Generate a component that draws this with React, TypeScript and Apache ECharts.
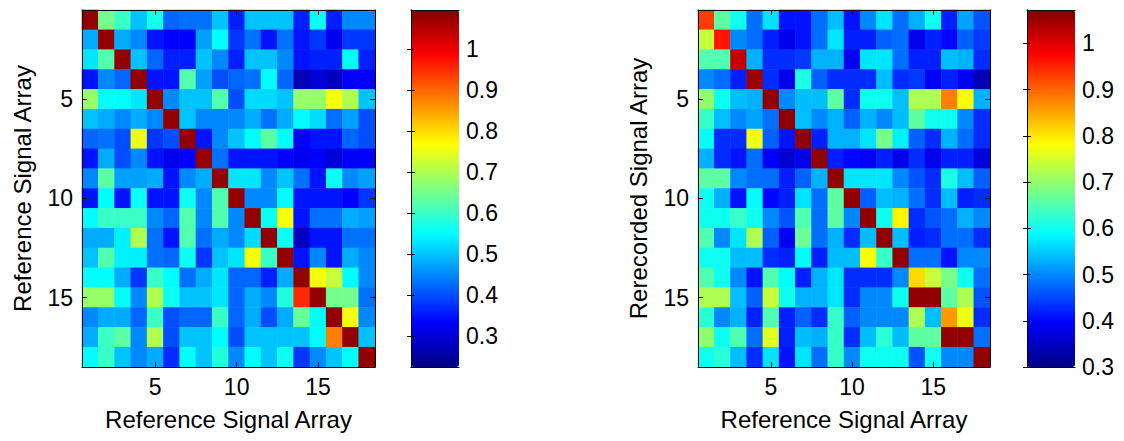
import React, { useEffect, useRef } from "react";
import * as echarts from "echarts";

const CATS = ["1","2","3","4","5","6","7","8","9","10","11","12","13","14","15","16","17","18"];
const TICK_LABELS = ["5", "10", "15"];
const CB_TICKS = [0.3, 0.4, 0.5, 0.6, 0.7, 0.8, 0.9, 1.0];

const LEFT_MIN = 0.225;
const LEFT_MAX = 1.095;
const RIGHT_MIN = 0.3;
const RIGHT_MAX = 1.072;

const LEFT_ROWS: number[][] = [
  [1.08,0.65,0.6,0.5,0.57,0.42,0.43,0.43,0.5,0.36,0.5,0.5,0.5,0.36,0.56,0.36,0.45,0.45],
  [0.48,1.08,0.48,0.45,0.35,0.33,0.33,0.47,0.55,0.38,0.43,0.35,0.43,0.35,0.38,0.32,0.38,0.38],
  [0.53,0.62,1.08,0.5,0.42,0.36,0.36,0.5,0.45,0.36,0.5,0.5,0.45,0.35,0.36,0.36,0.55,0.36],
  [0.35,0.45,0.42,1.08,0.35,0.35,0.62,0.47,0.4,0.42,0.43,0.55,0.42,0.27,0.3,0.28,0.33,0.33],
  [0.68,0.55,0.55,0.53,1.08,0.45,0.5,0.5,0.62,0.4,0.52,0.52,0.5,0.68,0.68,0.76,0.7,0.5],
  [0.5,0.48,0.45,0.48,0.45,1.08,0.5,0.45,0.45,0.45,0.48,0.43,0.48,0.55,0.52,0.43,0.47,0.4],
  [0.42,0.43,0.4,0.75,0.38,0.4,1.08,0.35,0.45,0.5,0.55,0.63,0.55,0.33,0.35,0.35,0.42,0.4],
  [0.35,0.48,0.4,0.45,0.35,0.32,0.33,1.08,0.43,0.35,0.35,0.35,0.33,0.32,0.33,0.3,0.33,0.33],
  [0.45,0.63,0.47,0.47,0.48,0.35,0.45,0.48,1.08,0.53,0.53,0.45,0.5,0.43,0.35,0.56,0.45,0.47],
  [0.35,0.55,0.35,0.56,0.35,0.35,0.56,0.45,0.62,1.08,0.45,0.45,0.55,0.35,0.35,0.35,0.33,0.38],
  [0.55,0.6,0.6,0.6,0.45,0.42,0.62,0.45,0.62,0.45,1.08,0.56,0.76,0.35,0.43,0.43,0.48,0.47],
  [0.48,0.48,0.54,0.7,0.43,0.35,0.62,0.43,0.48,0.45,0.52,1.08,0.56,0.28,0.35,0.35,0.43,0.43],
  [0.5,0.62,0.54,0.54,0.43,0.42,0.56,0.38,0.5,0.53,0.76,0.6,1.08,0.35,0.45,0.35,0.48,0.45],
  [0.55,0.55,0.48,0.38,0.6,0.55,0.43,0.48,0.53,0.42,0.42,0.36,0.48,1.08,0.76,0.72,0.55,0.45],
  [0.68,0.68,0.55,0.45,0.7,0.56,0.5,0.5,0.53,0.42,0.48,0.45,0.58,0.95,1.08,0.65,0.65,0.43],
  [0.45,0.48,0.48,0.42,0.6,0.4,0.42,0.42,0.6,0.42,0.48,0.4,0.48,0.64,0.55,1.08,0.76,0.45],
  [0.48,0.6,0.63,0.45,0.7,0.4,0.5,0.5,0.55,0.4,0.5,0.5,0.5,0.5,0.55,0.88,1.08,0.5],
  [0.55,0.6,0.5,0.45,0.48,0.37,0.55,0.5,0.58,0.45,0.55,0.5,0.56,0.38,0.45,0.5,0.55,1.08],
];

const RIGHT_ROWS: number[][] = [
  [0.93,0.66,0.6,0.48,0.57,0.41,0.41,0.48,0.54,0.41,0.5,0.57,0.48,0.53,0.6,0.42,0.52,0.46],
  [0.74,0.96,0.5,0.48,0.42,0.38,0.41,0.48,0.57,0.42,0.42,0.47,0.48,0.38,0.42,0.4,0.47,0.44],
  [0.65,0.65,1.02,0.53,0.43,0.43,0.44,0.53,0.53,0.39,0.57,0.57,0.48,0.42,0.42,0.54,0.53,0.43],
  [0.5,0.48,0.42,1.05,0.43,0.38,0.61,0.47,0.43,0.43,0.43,0.54,0.43,0.44,0.39,0.42,0.39,0.34],
  [0.7,0.6,0.54,0.53,1.06,0.5,0.54,0.54,0.66,0.43,0.6,0.6,0.54,0.72,0.72,0.88,0.78,0.53],
  [0.63,0.54,0.5,0.52,0.48,1.06,0.54,0.5,0.53,0.47,0.53,0.5,0.54,0.66,0.6,0.6,0.5,0.43],
  [0.59,0.43,0.43,0.77,0.47,0.41,1.06,0.42,0.53,0.53,0.57,0.68,0.58,0.47,0.43,0.53,0.48,0.43],
  [0.53,0.43,0.41,0.48,0.39,0.36,0.38,1.06,0.42,0.4,0.39,0.42,0.38,0.43,0.38,0.42,0.42,0.37],
  [0.66,0.66,0.5,0.48,0.48,0.42,0.47,0.53,1.06,0.57,0.57,0.57,0.5,0.46,0.43,0.61,0.54,0.47],
  [0.6,0.53,0.41,0.59,0.4,0.42,0.57,0.48,0.66,1.06,0.47,0.54,0.53,0.48,0.43,0.54,0.42,0.43],
  [0.6,0.6,0.63,0.6,0.5,0.46,0.65,0.48,0.66,0.5,1.06,0.6,0.79,0.43,0.46,0.48,0.53,0.5],
  [0.65,0.5,0.57,0.72,0.47,0.39,0.67,0.48,0.53,0.43,0.54,1.06,0.54,0.42,0.43,0.48,0.48,0.43],
  [0.6,0.6,0.54,0.54,0.43,0.42,0.59,0.42,0.54,0.54,0.78,0.63,1.06,0.48,0.48,0.41,0.5,0.5],
  [0.65,0.6,0.5,0.41,0.65,0.59,0.42,0.53,0.57,0.43,0.43,0.43,0.5,0.81,0.74,0.68,0.6,0.48],
  [0.72,0.72,0.54,0.47,0.74,0.6,0.53,0.53,0.57,0.43,0.5,0.5,0.6,1.06,1.06,0.66,0.72,0.46],
  [0.62,0.5,0.53,0.42,0.65,0.42,0.47,0.43,0.63,0.47,0.5,0.5,0.5,0.72,0.54,0.86,0.77,0.43],
  [0.7,0.6,0.65,0.48,0.76,0.42,0.54,0.53,0.63,0.43,0.54,0.62,0.54,0.66,0.66,1.06,1.06,0.48],
  [0.6,0.62,0.54,0.43,0.57,0.41,0.57,0.48,0.63,0.5,0.6,0.6,0.6,0.46,0.6,0.5,0.5,1.06],
];

const JET = ["#000084", "#0000ff", "#0080ff", "#00ffff", "#80ff80", "#ffff00", "#ff8000", "#ff0000", "#800000"];
const FONT = "'Liberation Sans', Arial, Helvetica, sans-serif";
const TICK_FS = 23;
const NAME_FS = 24;

const toCells = (rows: number[][]) => {
  const out: [number, number, number][] = [];
  rows.forEach((row, r) => row.forEach((v, c) => out.push([c, r, v])));
  return out;
};

const tickInt = (_i: number, v: string) => TICK_LABELS.includes(v);

function heatAxes(grid: number, xName: string, yName: string) {
  const line = { show: true, lineStyle: { color: "#000", width: 1 } };
  const tick = { show: true, inside: true, alignWithLabel: true, interval: tickInt, length: 5, lineStyle: { color: "#000" } };
  const label = { interval: tickInt, fontSize: TICK_FS, color: "#000", fontFamily: FONT };
  const x = [
    {
      gridIndex: grid, type: "category", data: CATS, position: "bottom", z: 10,
      axisLine: line, axisTick: tick, axisLabel: { ...label, margin: 8 },
      name: xName, nameLocation: "middle", nameGap: 40,
      nameTextStyle: { fontSize: NAME_FS, color: "#000", fontFamily: FONT },
      splitLine: { show: false },
    },
    {
      gridIndex: grid, type: "category", data: CATS, position: "top", z: 10,
      axisLine: line, axisTick: tick, axisLabel: { show: false }, splitLine: { show: false },
    },
  ];
  const y = [
    {
      gridIndex: grid, type: "category", data: CATS, position: "left", inverse: true, z: 10,
      axisLine: line, axisTick: tick, axisLabel: { ...label, margin: 9 },
      name: yName, nameLocation: "middle", nameGap: 48,
      nameTextStyle: { fontSize: NAME_FS, color: "#000", fontFamily: FONT },
      splitLine: { show: false },
    },
    {
      gridIndex: grid, type: "category", data: CATS, position: "right", inverse: true, z: 10,
      axisLine: line, axisTick: tick, axisLabel: { show: false }, splitLine: { show: false },
    },
  ];
  return { x, y };
}

function cbAxes(grid: number, min: number, max: number) {
  const line = { show: true, lineStyle: { color: "#000", width: 1 } };
  const x = [
    { gridIndex: grid, type: "value", min: 0, max: 1, position: "bottom", z: 10, axisLine: line, axisTick: { show: false }, axisLabel: { show: false }, splitLine: { show: false } },
    { gridIndex: grid, type: "value", min: 0, max: 1, position: "top", z: 10, axisLine: line, axisTick: { show: false }, axisLabel: { show: false }, splitLine: { show: false } },
  ];
  const tick = { show: true, inside: true, length: 4, customValues: CB_TICKS, lineStyle: { color: "#000" } };
  const y = [
    { gridIndex: grid, type: "value", min, max, position: "left", z: 10, axisLine: line, axisTick: tick, axisLabel: { show: false }, splitLine: { show: false } },
    {
      gridIndex: grid, type: "value", min, max, position: "right", z: 10, axisLine: line, axisTick: tick,
      axisLabel: {
        show: true, customValues: CB_TICKS, fontSize: TICK_FS, color: "#000", fontFamily: FONT, margin: 7,
        formatter: (v: number) => String(Math.round(v * 10) / 10),
      },
      splitLine: { show: false },
    },
  ];
  return { x, y };
}

export default function App() {
  const ref = useRef<HTMLDivElement>(null);
  useEffect(() => {
    document.body.style.margin = "0";
    if (!ref.current) return;
    const chart = echarts.init(ref.current, null, { renderer: "svg" });
    const h1 = heatAxes(0, "Reference Signal Array", "Reference Signal Array");
    const c1 = cbAxes(1, LEFT_MIN, LEFT_MAX);
    const h2 = heatAxes(2, "Reference Signal Array", "Rerecorded Signal Array");
    const c2 = cbAxes(3, RIGHT_MIN, RIGHT_MAX);
    chart.setOption({
      animation: false,
      backgroundColor: "#fff",
      textStyle: { fontFamily: FONT },
      grid: [
        { left: 82, top: 10, width: 293, height: 357 },
        { left: 411, top: 10, width: 48, height: 357 },
        { left: 698, top: 10, width: 292, height: 357 },
        { left: 1027, top: 10, width: 48, height: 357 },
      ],
      xAxis: [...h1.x, ...c1.x, ...h2.x, ...c2.x],
      yAxis: [...h1.y, ...c1.y, ...h2.y, ...c2.y],
      visualMap: [
        {
          type: "continuous", seriesIndex: 0, min: LEFT_MIN, max: LEFT_MAX, calculable: false,
          inRange: { color: JET }, left: 411, top: 10, itemWidth: 48, itemHeight: 357, padding: 0, z: 1,
          orient: "vertical", hoverLink: false,
        },
        {
          type: "continuous", seriesIndex: 1, min: RIGHT_MIN, max: RIGHT_MAX, calculable: false,
          inRange: { color: JET }, left: 1027, top: 10, itemWidth: 48, itemHeight: 357, padding: 0, z: 1,
          orient: "vertical", hoverLink: false,
        },
      ],
      series: [
        {
          type: "heatmap", xAxisIndex: 0, yAxisIndex: 0, data: toCells(LEFT_ROWS),
          itemStyle: { borderWidth: 0 }, emphasis: { disabled: true },
        },
        {
          type: "heatmap", xAxisIndex: 4, yAxisIndex: 4, data: toCells(RIGHT_ROWS),
          itemStyle: { borderWidth: 0 }, emphasis: { disabled: true },
        },
      ],
    });
    return () => chart.dispose();
  }, []);
  return <div ref={ref} style={{ width: 1124, height: 441 }} />;
}
